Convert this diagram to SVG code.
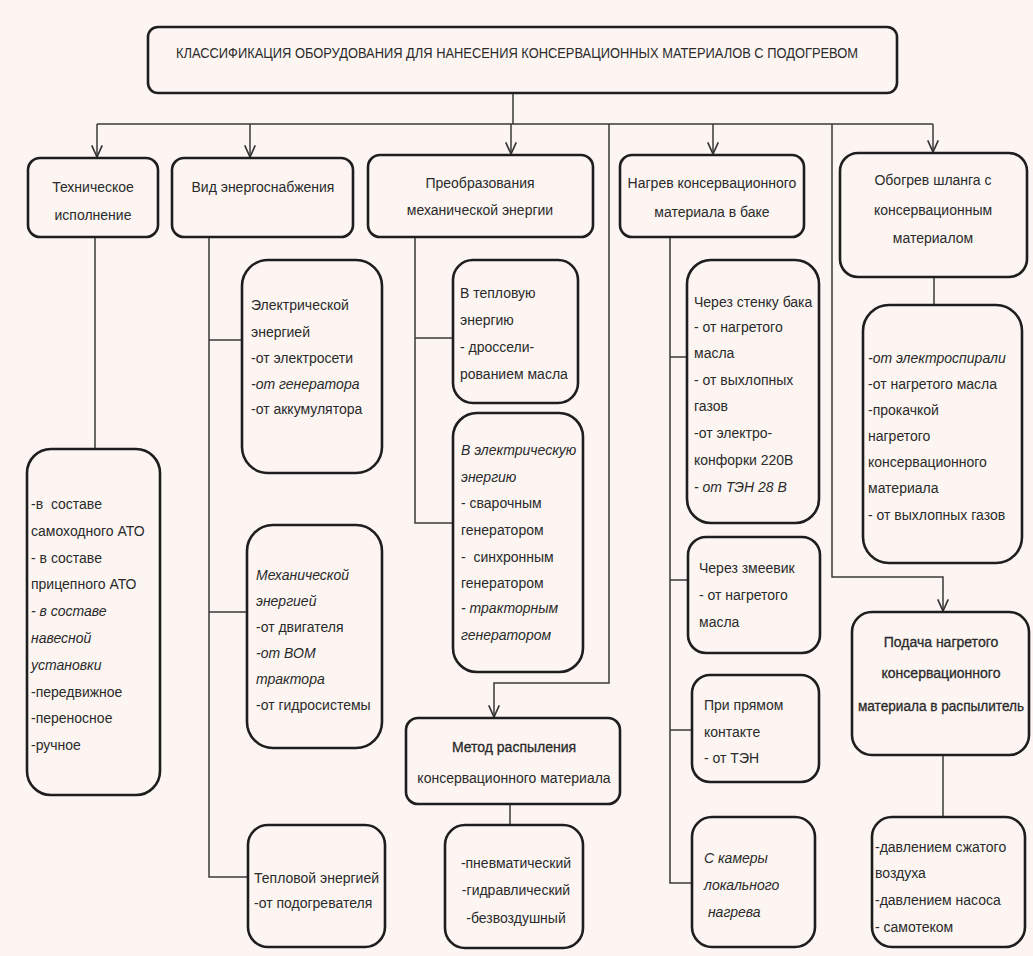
<svg xmlns="http://www.w3.org/2000/svg" width="1033" height="956" viewBox="0 0 1033 956">
<defs>
<marker id="arr" markerUnits="userSpaceOnUse" markerWidth="14" markerHeight="14" viewBox="-1 -6 12 12" refX="10" refY="0" orient="auto" overflow="visible">
<path d="M0,-4.5 L10,0 L0,4.5" fill="none" stroke="#333" stroke-width="1.4"/>
</marker>
</defs>
<style>
.bg{fill:#fcf5f2}
.box{fill:#fcf5f2;stroke:#1e1e1e;stroke-width:2.6}
.ln{fill:none;stroke:#3a3a3a;stroke-width:1.5}
text{font-family:"Liberation Sans",Arial,sans-serif;font-size:14px;fill:#2a2a2a;white-space:pre}
.c{text-anchor:middle}
.i{font-style:italic}
.b{stroke:#2a2a2a;stroke-width:0.3}
</style>
<rect class="bg" x="0" y="0" width="1033" height="956"/>

<g id="connectors">
<path class="ln" d="M513,93 V124"/>
<path class="ln" d="M97,124 H933"/>
<path class="ln" d="M97,124 V157" marker-end="url(#arr)"/>
<path class="ln" d="M250,124 V157" marker-end="url(#arr)"/>
<path class="ln" d="M511,124 V154" marker-end="url(#arr)"/>
<path class="ln" d="M713,124 V154" marker-end="url(#arr)"/>
<path class="ln" d="M933,124 V152" marker-end="url(#arr)"/>
<path class="ln" d="M609,124 V683 H494 V717" marker-end="url(#arr)"/>
<path class="ln" d="M832,124 V577 H943 V611" marker-end="url(#arr)"/>
<path class="ln" d="M95,237 V449"/>
<path class="ln" d="M209,237 V877 H248 M209,340 H242 M209,612 H247"/>
<path class="ln" d="M415,237 V523 H453 M415,338 H453"/>
<path class="ln" d="M670,237 V883 H692 M670,357 H687 M670,580 H688 M670,730 H692"/>
<path class="ln" d="M934,277 V305"/>
<path class="ln" d="M510,804 V825"/>
<path class="ln" d="M943,755 V817"/>
</g>

<g id="title">
<rect class="box" x="148" y="27" width="749" height="66" rx="10"/>
<text x="176" y="58" textLength="682" lengthAdjust="spacingAndGlyphs">КЛАССИФИКАЦИЯ ОБОРУДОВАНИЯ ДЛЯ НАНЕСЕНИЯ КОНСЕРВАЦИОННЫХ МАТЕРИАЛОВ С ПОДОГРЕВОМ</text>
</g>

<g id="tech">
<rect class="box" x="28" y="158" width="130" height="79" rx="12"/>
<text class="c" x="93" y="192">Техническое</text>
<text class="c" x="93" y="220">исполнение</text>
</g>

<g id="energy">
<rect class="box" x="172" y="158" width="181" height="79" rx="12"/>
<text class="c" x="263" y="192">Вид энергоснабжения</text>
</g>

<g id="mech">
<rect class="box" x="368" y="155" width="225" height="82" rx="12"/>
<text class="c" x="480" y="188">Преобразования</text>
<text class="c" x="480" y="215">механической энергии</text>
</g>

<g id="tank">
<rect class="box" x="620" y="155" width="184" height="82" rx="12"/>
<text class="c" x="712" y="188">Нагрев консервационного</text>
<text class="c" x="712" y="217">материала в баке</text>
</g>

<g id="hose">
<rect class="box" x="840" y="153" width="187" height="124" rx="18"/>
<text class="c" x="933" y="185">Обогрев шланга с</text>
<text class="c" x="933" y="215">консервационным</text>
<text class="c" x="933" y="243">материалом</text>
</g>

<g id="tech-list">
<rect class="box" x="27" y="449" width="133" height="346" rx="24"/>
<text x="31" y="509" xml:space="preserve">-в  составе</text>
<text x="31" y="536">самоходного АТО</text>
<text x="31" y="563">- в составе</text>
<text x="31" y="589">прицепного АТО</text>
<text class="i" x="31" y="616">- в составе</text>
<text class="i" x="31" y="643">навесной</text>
<text class="i" x="31" y="670">установки</text>
<text x="31" y="697">-передвижное</text>
<text x="31" y="723">-переносное</text>
<text x="31" y="750">-ручное</text>
</g>

<g id="electric">
<rect class="box" x="242" y="260" width="140" height="213" rx="26"/>
<text x="251" y="310">Электрической</text>
<text x="251" y="337">энергией</text>
<text x="251" y="363">-от электросети</text>
<text class="i" x="251" y="389">-от генератора</text>
<text x="251" y="414">-от аккумулятора</text>
</g>

<g id="mechanical">
<rect class="box" x="247" y="525" width="135" height="223" rx="26"/>
<text class="i" x="256" y="580">Механической</text>
<text class="i" x="256" y="606">энергией</text>
<text x="256" y="632">-от двигателя</text>
<text class="i" x="256" y="658">-от ВОМ</text>
<text class="i" x="256" y="684">трактора</text>
<text x="256" y="710">-от гидросистемы</text>
</g>

<g id="thermal">
<rect class="box" x="248" y="825" width="137" height="122" rx="20"/>
<text x="254" y="883">Тепловой энергией</text>
<text x="254" y="908">-от подогревателя</text>
</g>

<g id="to-heat">
<rect class="box" x="453" y="260" width="125" height="143" rx="20"/>
<text x="460" y="298">В тепловую</text>
<text x="460" y="325">энергию</text>
<text x="460" y="352">- дроссели-</text>
<text x="460" y="379">рованием масла</text>
</g>

<g id="to-electric">
<rect class="box" x="453" y="413" width="130" height="259" rx="24"/>
<text class="i" x="461" y="455">В электрическую</text>
<text class="i" x="461" y="482">энергию</text>
<text x="461" y="508">- сварочным</text>
<text x="461" y="535">генератором</text>
<text x="461" y="562" xml:space="preserve">-  синхронным</text>
<text x="461" y="588">генератором</text>
<text class="i" x="461" y="613">- тракторным</text>
<text class="i" x="461" y="640">генератором</text>
</g>

<g id="spray">
<rect class="box" x="406" y="718" width="214" height="86" rx="12"/>
<text class="c b" x="514" y="752">Метод распыления</text>
<text class="c" x="514" y="783">консервационного материала</text>
</g>

<g id="spray-list">
<rect class="box" x="445" y="825" width="138" height="123" rx="20"/>
<text class="c" x="516" y="868">-пневматический</text>
<text class="c" x="516" y="895">-гидравлический</text>
<text class="c" x="516" y="923">-безвоздушный</text>
</g>

<g id="wall">
<rect class="box" x="687" y="260" width="132" height="263" rx="24"/>
<text x="694" y="307">Через стенку бака</text>
<text x="694" y="332">- от нагретого</text>
<text x="694" y="358">масла</text>
<text x="694" y="385">- от выхлопных</text>
<text x="694" y="411">газов</text>
<text x="694" y="438">-от электро-</text>
<text x="694" y="465">конфорки 220В</text>
<text class="i" x="694" y="492">- от ТЭН 28 В</text>
</g>

<g id="coil">
<rect class="box" x="688" y="537" width="132" height="116" rx="18"/>
<text x="699" y="573">Через змеевик</text>
<text x="699" y="600">- от нагретого</text>
<text x="699" y="627">масла</text>
</g>

<g id="direct">
<rect class="box" x="692" y="675" width="127" height="107" rx="18"/>
<text x="704" y="710">При прямом</text>
<text x="704" y="737">контакте</text>
<text x="704" y="763">- от ТЭН</text>
</g>

<g id="chamber">
<rect class="box" x="692" y="817" width="123" height="130" rx="20"/>
<text class="i" x="704" y="863">С камеры</text>
<text class="i" x="704" y="890">локального</text>
<text class="i" x="704" y="917" xml:space="preserve"> нагрева</text>
</g>

<g id="hose-list">
<rect class="box" x="863" y="305" width="159" height="258" rx="26"/>
<text class="i" x="868" y="363">-от электроспирали</text>
<text x="868" y="389">-от нагретого масла</text>
<text x="868" y="415">-прокачкой</text>
<text x="868" y="441">нагретого</text>
<text x="868" y="467">консервационного</text>
<text x="868" y="493">материала</text>
<text x="868" y="520">- от выхлопных газов</text>
</g>

<g id="feed">
<rect class="box" x="852" y="612" width="177" height="143" rx="20"/>
<text class="c b" x="941" y="647">Подача нагретого</text>
<text class="c b" x="941" y="678">консервационного</text>
<text class="c b" x="941" y="711" textLength="166" lengthAdjust="spacingAndGlyphs">материала в распылитель</text>
</g>

<g id="feed-list">
<rect class="box" x="872" y="817" width="153" height="130" rx="20"/>
<text x="875" y="852">-давлением сжатого</text>
<text x="875" y="878">воздуха</text>
<text x="875" y="905">-давлением насоса</text>
<text x="875" y="932">- самотеком</text>
</g>
</svg>
